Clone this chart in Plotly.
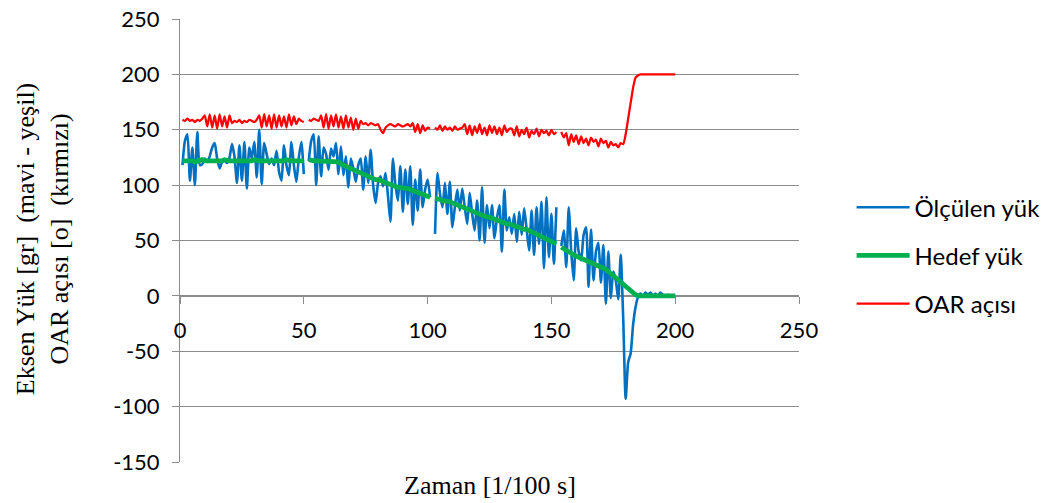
import plotly.graph_objects as go

# Sample index (time in 1/100 s)
x_vals = list(range(1, 201))

# Measured load [gr]
measured_load = [
    118, 140, 146, 104, 134, 100, 148, 118, 119, 124,
    121, 126, 134, 138, 124, 115, 121, 122, 120, 125,
    137, 126, 102, 136, 104, 139, 97, 134, 124, 139,
    107, 150, 101, 138, 128, 119, 124, 118, 131, 112,
    104, 136, 118, 109, 139, 118, 103, 125, 139, 110,
    None, 122, 140, 146, 100, 144, 108, 134, 128, 114,
    133, 126, 138, 110, 135, 109, 126, 98, 124, 115,
    103, 118, 124, 96, 126, 102, 132, 100, 84, 102,
    108, 99, 111, 90, 67, 124, 100, 86, 117, 76,
    114, 83, 117, 64, 105, 77, 114, 80, 96, 105,
    89, None, 56, 111, 92, 80, 102, 74, 103, 62,
    80, 96, 77, 97, 80, 65, 93, 74, 59, 86,
    50, 98, 48, 82, 61, 82, 52, 70, 82, 40,
    96, 59, 71, 56, 74, 49, 76, 55, 79, 60,
    41, 77, 37, 80, 47, 85, 25, 89, 35, 74,
    29, 80, None, 45, 59, 26, 80, 40, 14, 61,
    40, 32, 55, 62, 8, 60, 14, 40, 48, 12,
    46, -7, 40, -2, 22, 14, -3, 37, -20, -93,
    -60, -52, -26, -10, -1, 2, 0, 3, 1, 3,
    0, 2, 0, 3, 1, 0, 1, 0, 0, 0,
]

# Target load [gr]
target_load = [
    122, 122, 123, 122, 122, 121, 122, 122, 123, 122,
    122, 122, 122, 121, 122, 122, 122, 123, 122, 122,
    122, 122, 122, 122, 121, 122, 122, 122, 122, 123,
    122, 122, 122, 122, 122, 122, 121, 122, 122, 122,
    122, 122, 123, 122, 122, 122, 122, 122, 121, 122,
    None, 123, 122, 122, 122, 122, 122, 122, 122, 122,
    122, 122, 122, 121, 119, 118, 116, 115, 114, 113,
    112, 111, 110, 109, 108, 107, 107, 106, 105, 105,
    104, 103, 102, 101, 100, 100, 99, 98, 98, 97,
    97, 97, 96, 95, 94, 93, 92, 91, 90, 90,
    89, None, 88, 88, 87, 86, 86, 85, 85, 84,
    83, 82, 81, 80, 79, 78, 77, 76, 75, 75,
    74, 73, 72, 71, 71, 70, 69, 68, 68, 67,
    66, 65, 65, 64, 63, 63, 62, 61, 60, 60,
    59, 58, 57, 56, 55, 54, 53, 52, 51, 50,
    48, 47, None, 44, 42, 41, 40, 38, 37, 36,
    35, 34, 34, 33, 32, 31, 30, 28, 27, 26,
    25, 24, 22, 20, 18, 16, 14, 12, 10, 8,
    6, 4, 2, 1, 0, 0, 0, 0, 0, 0,
    0, 0, 0, 0, 0, 0, 0, 0, 0, 0,
]

# OAR angle [deg]
oar_angle = [
    159, 158, 160, 158, 159, 157, 159, 158, 160, 163,
    153, 164, 152, 163, 151, 164, 153, 162, 152, 163,
    156, 158, 157, 159, 156, 158, 157, 159, 158, 157,
    159, 163, 152, 164, 153, 163, 151, 164, 152, 163,
    153, 162, 152, 164, 154, 162, 155, 160, 158, 157,
    None, 159, 158, 160, 159, 158, 163, 152, 164, 151,
    163, 153, 164, 152, 162, 151, 163, 152, 161, 150,
    160, 151, 158, 155, 156, 154, 156, 155, 154, 155,
    150, 147, 152, 154, 155, 154, 153, 155, 154, 153,
    154, 155, 153, 156, 148, 155, 147, 154, 149, 152,
    151, None, 152, 150, 154, 149, 153, 150, 152, 149,
    153, 150, 151, 152, 155, 146, 154, 145, 153, 147,
    155, 146, 152, 145, 154, 147, 153, 146, 152, 145,
    154, 148, 151, 151, 145, 153, 144, 150, 146, 152,
    143, 149, 146, 151, 144, 150, 147, 149, 145, 150,
    146, 148, None, 148, 143, 147, 136, 146, 139, 145,
    137, 144, 138, 142, 136, 143, 139, 141, 135, 142,
    138, 140, 134, 139, 136, 137, 134, 138, 137, 146,
    160, 174, 188, 197, 199, 200, 200, 200, 200, 200,
    200, 200, 200, 200, 200, 200, 200, 200, 200, 200,
]

x_ticks = [0, 50, 100, 150, 200, 250]
y_ticks = [-150, -100, -50, 0, 50, 100, 150, 200, 250]
# Plain hyphen-minus for negative tick labels
y_tick_text = [str(v) for v in y_ticks]

series_names = ["Ölçülen yük", "Hedef yük", "OAR açısı"]
series_colors = ["#0070C0", "#00B050", "#FF0000"]
series_widths = [2.6, 4.75, 2.25]
series_shapes = ["spline", "linear", "spline"]

x_title = "Zaman [1/100 s]"
y_title = "Eksen Yük [gr]\u00a0 (mavi - yeşil)<br>OAR açısı [o]\u00a0 (kırmızı)"

AXIS_GRAY = "#8C8C8C"

fig = go.Figure()
for name, values, color, width, shape in zip(
    series_names,
    [measured_load, target_load, oar_angle],
    series_colors,
    series_widths,
    series_shapes,
):
    fig.add_trace(
        go.Scatter(
            x=x_vals,
            y=values,
            mode="lines",
            name=name,
            legendgroup=name,
            line=dict(color=color, width=width, shape=shape, smoothing=0.6),
            connectgaps=False,
        )
    )

fig.update_layout(
    width=1059,
    height=503,
    margin=dict(l=180, r=260, t=19, b=41),
    plot_bgcolor="white",
    paper_bgcolor="white",
    font=dict(family="Lato", size=22, color="black"),
    showlegend=True,
    legend=dict(
        x=1.085,
        y=0.625,
        xanchor="left",
        yanchor="top",
        font=dict(family="Lato", size=24, color="black"),
        tracegroupgap=14,
        itemwidth=53,
        bgcolor="rgba(0,0,0,0)",
    ),
    xaxis=dict(
        range=[0, 250],
        tickvals=x_ticks,
        showgrid=False,
        zeroline=False,
        showline=True,
        linecolor=AXIS_GRAY,
        linewidth=1,
        ticks="outside",
        ticklen=7,
        tickcolor=AXIS_GRAY,
        anchor="free",
        position=0.375,
        layer="below traces",
        automargin=False,
        ticklabelstandoff=8,
    ),
    yaxis=dict(
        range=[-150, 250],
        tickvals=y_ticks,
        ticktext=y_tick_text,
        showgrid=True,
        gridcolor=AXIS_GRAY,
        gridwidth=1,
        zeroline=False,
        showline=True,
        linecolor=AXIS_GRAY,
        linewidth=1,
        ticks="outside",
        ticklen=7,
        tickcolor=AXIS_GRAY,
        layer="below traces",
        automargin=False,
        ticklabelstandoff=8,
    ),
    annotations=[
        dict(
            text=x_title,
            xref="paper",
            yref="paper",
            x=0.5,
            y=-0.052,
            xanchor="center",
            yanchor="middle",
            showarrow=False,
            font=dict(family="Liberation Serif", size=26, color="black"),
        ),
        dict(
            text=y_title,
            xref="paper",
            yref="paper",
            x=-0.223,
            y=0.503,
            xanchor="center",
            yanchor="middle",
            textangle=-90,
            showarrow=False,
            font=dict(family="Liberation Serif", size=26, color="black"),
        ),
    ],
)

fig.write_html("out.html")
